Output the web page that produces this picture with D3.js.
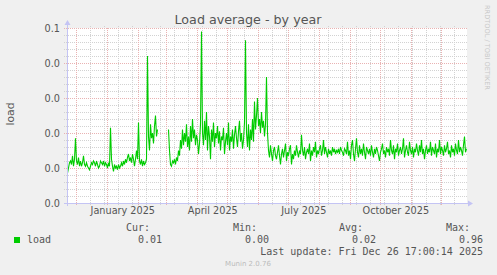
<!DOCTYPE html>
<html>
<head>
<meta charset="utf-8">
<script src="https://cdn.jsdelivr.net/npm/d3@7"></script>
<style>
  body { margin: 0; background: #f0f0f0; }
  svg { display: block; font-family: "DejaVu Sans", sans-serif; }
  .mono { font-family: "DejaVu Sans Mono", monospace; }
</style>
</head>
<body>
<div id="chart"></div>
<script>
// time window: munin "by year" = last 400 days, one point per day
const lastUpdate = new Date(Date.UTC(2025, 11, 26, 17, 0, 14));
const days = 400;

// daily load average, in thousandths (null = no data)
const load = [
  17,20,23,24,22,27,21,25,37,24, 22,26,21,24,21,23,27,22,21,23,
  21,20,19,21,23,22,24,23,21,24, 22,20,21,24,23,22,24,21,23,22,
  20,23,21,43,25,21,18,22,20,21, 19,22,20,21,23,21,24,22,25,23,
  26,28,24,26,23,28,25,21,25,30, 25,46,24,22,25,21,24,22,23,25,
  84,38,30,45,37,40,34,44,50,38, 42,null,null,null,null,null,null,null,null,null,
  null,42,30,22,21,24,23,25,22,26, 24,30,27,36,31,42,33,40,35,45,
  32,38,30,44,35,48,37,42,33,39, 36,28,34,45,98,40,33,47,36,52,
  30,44,38,25,42,35,46,32,40,37, 44,34,41,30,38,36,43,28,35,40,
  33,46,30,38,35,42,31,39,44,37, 32,41,47,35,40,31,36,46,93,40,
  32,45,30,42,36,48,35,58,42,50, 60,44,48,40,52,43,47,38,45,72,
  40,30,26,33,28,24,30,32,27,25, 29,33,27,22,28,31,26,30,34,24,
  29,27,31,33,22,28,25,30,27,33, 29,26,30,28,39,30,27,32,25,29,
  31,28,34,24,30,27,32,29,35,26, 30,28,31,33,27,30,36,28,32,29,
  26,31,28,30,27,32,29,31,28,30, 29,31,28,32,30,29,27,31,30,28,
  35,27,30,25,33,36,28,24,31,37, 29,26,33,28,31,27,34,29,25,32,
  30,28,31,27,33,29,26,31,28,32, 30,27,24,29,31,34,28,30,26,32,
  29,31,27,36,30,28,33,25,31,29, 34,27,30,32,28,31,37,26,30,33,
  29,27,35,30,28,32,26,31,29,34, 30,27,33,29,36,28,31,25,30,33,
  28,31,29,35,27,32,30,28,34,26, 31,29,36,28,32,30,27,33,29,31,
  35,28,30,26,33,29,31,27,34,30, 28,36,29,32,30,27,33,38,29,31
];

const yTicks = [0, 0.02, 0.04, 0.06, 0.08, 0.1];
const yTickLabels = ["0.0", "0.0", "0.0", "0.0", "0.0", "0.1"];
const labelMonths = ["2025-01-01", "2025-04-01", "2025-07-01", "2025-10-01"];

const legendName = "load";
const legendHeads = ["Cur:", "Min:", "Avg:", "Max:"];
const legendValues = ["0.01", "0.00", "0.02", "0.96"];
const updateText = "Last update: Fri Dec 26 17:00:14 2025";

const width = 497, height = 275;
const plotLeft = 67, plotRight = 467, plotTop = 28, plotBottom = 203;

const startTime = new Date(lastUpdate.getTime() - days * 86400e3);
const points = load.map((v, i) => ({
  t: new Date(startTime.getTime() + i * 86400e3),
  v: v == null ? null : v / 1000
}));

const svg = d3.select("#chart").append("svg")
    .attr("width", width)
    .attr("height", height);

const x = d3.scaleUtc()
    .domain([startTime, lastUpdate])
    .range([plotLeft, plotRight]);

const y = d3.scaleLinear()
    .domain([0, 0.1])
    .range([plotBottom, plotTop]);

const px = v => Math.round(v) + 0.5;

// canvas
svg.append("rect")
    .attr("x", plotLeft).attr("y", plotTop)
    .attr("width", plotRight - plotLeft).attr("height", plotBottom - plotTop)
    .attr("fill", "#ffffff");

const grid = svg.append("g").attr("shape-rendering", "crispEdges");

// minor grid
const minorY = d3.range(0, 0.1001, 0.004);
grid.selectAll("line.minor-y")
  .data(minorY)
  .enter().append("line")
    .attr("x1", plotLeft - 3).attr("x2", plotRight + 1)
    .attr("y1", d => px(y(d))).attr("y2", d => px(y(d)))
    .attr("stroke", "#d2d2d2")
    .attr("stroke-dasharray", "1,1");

const minorX = d3.utcSunday.range(new Date(Date.UTC(2024, 11, 15)), lastUpdate, 2);
grid.selectAll("line.minor-x")
  .data(minorX)
  .enter().append("line")
    .attr("x1", d => px(x(d))).attr("x2", d => px(x(d)))
    .attr("y1", plotTop - 2).attr("y2", plotBottom + 3)
    .attr("stroke", "#d2d2d2")
    .attr("stroke-dasharray", "1,1");

// major grid
grid.selectAll("line.major-y")
  .data(yTicks)
  .enter().append("line")
    .attr("x1", plotLeft - 3).attr("x2", plotRight + 1)
    .attr("y1", d => px(y(d))).attr("y2", d => px(y(d)))
    .attr("stroke", "#e9b2b2")
    .attr("stroke-dasharray", "1,1");

const majorX = d3.utcMonth.range(startTime, lastUpdate);
grid.selectAll("line.major-x")
  .data(majorX)
  .enter().append("line")
    .attr("x1", d => px(x(d))).attr("x2", d => px(x(d)))
    .attr("y1", plotTop).attr("y2", plotBottom + 3)
    .attr("stroke", "#e9b2b2")
    .attr("stroke-dasharray", "1,1");

// data line
const line = d3.line()
    .defined(d => d.v != null)
    .x(d => x(d.t) + 0.5)
    .y(d => y(d.v));

svg.append("path")
    .datum(points)
    .attr("d", line)
    .attr("fill", "none")
    .attr("stroke", "#00cc00")
    .attr("stroke-width", 1.1);

// axes lines with arrows
const axisColor = "#c4c4f4";
svg.append("line")
    .attr("x1", px(plotLeft)).attr("x2", px(plotLeft))
    .attr("y1", plotBottom + 3).attr("y2", plotTop - 5)
    .attr("stroke", axisColor).attr("shape-rendering", "crispEdges");
svg.append("path")
    .attr("d", `M${plotLeft - 2.5},${plotTop - 3}L${plotLeft + 3.5},${plotTop - 3}L${plotLeft + 0.5},${plotTop - 8}Z`)
    .attr("fill", axisColor);
svg.append("line")
    .attr("x1", plotLeft - 3).attr("x2", plotRight + 2)
    .attr("y1", px(plotBottom)).attr("y2", px(plotBottom))
    .attr("stroke", axisColor).attr("shape-rendering", "crispEdges");
svg.append("path")
    .attr("d", `M${plotRight + 1},${plotBottom - 2.5}L${plotRight + 1},${plotBottom + 3.5}L${plotRight + 6},${plotBottom + 0.5}Z`)
    .attr("fill", axisColor);

// y axis labels
const yAxis = d3.axisLeft(y)
    .tickValues(yTicks)
    .tickFormat((d, i) => yTickLabels[i])
    .tickSize(0)
    .tickPadding(7);
const gy = svg.append("g")
    .attr("transform", `translate(${plotLeft},0)`)
    .call(yAxis);
gy.select(".domain").remove();
gy.selectAll("text")
    .attr("fill", "#555")
    .style("font-size", "9.7px")
    .style("font-family", "DejaVu Sans");

// x axis labels, centred mid-month like rrdtool
const labelDates = labelMonths.map(s => d3.utcDay.offset(new Date(s + "T00:00:00Z"), 15));
const xAxis = d3.axisBottom(x)
    .tickValues(labelDates)
    .tickFormat(d => d3.utcFormat("%B %Y")(d3.utcMonth.floor(d)))
    .tickSize(0)
    .tickPadding(4);
const gx = svg.append("g")
    .attr("transform", `translate(0,${plotBottom})`)
    .call(xAxis);
gx.select(".domain").remove();
gx.selectAll("text")
    .attr("fill", "#555")
    .style("font-size", "9.7px")
    .style("font-family", "DejaVu Sans");

// title
svg.append("text")
    .attr("x", 248).attr("y", 24)
    .attr("text-anchor", "middle")
    .attr("fill", "#555")
    .style("font-size", "12.7px")
    .text("Load average - by year");

// vertical axis title
svg.append("text")
    .attr("transform", "translate(14,114) rotate(-90)")
    .attr("text-anchor", "middle")
    .attr("fill", "#555")
    .style("font-size", "10.8px")
    .text("load");

// rrdtool watermark
svg.append("text")
    .attr("transform", "translate(485,5) rotate(90)")
    .attr("fill", "#c8c8c8")
    .style("font-size", "6.6px")
    .text("RRDTOOL / TOBI OETIKER");

// legend
const colRight = [150, 257, 363, 470];
const valRight = [162, 269, 376, 483];
const legend = svg.append("g").attr("class", "mono").attr("fill", "#555").style("font-size", "10px");

legend.selectAll("text.head")
  .data(legendHeads)
  .enter().append("text")
    .attr("x", (d, i) => colRight[i]).attr("y", 231)
    .attr("text-anchor", "end")
    .text(d => d);

legend.selectAll("text.val")
  .data(legendValues)
  .enter().append("text")
    .attr("x", (d, i) => valRight[i]).attr("y", 243)
    .attr("text-anchor", "end")
    .text(d => d);

svg.append("rect")
    .attr("x", 14).attr("y", 237)
    .attr("width", 6).attr("height", 6)
    .attr("fill", "#00cc00");

legend.append("text")
    .attr("x", 27).attr("y", 243)
    .text(legendName);

legend.append("text")
    .attr("x", 483).attr("y", 255)
    .attr("text-anchor", "end")
    .text(updateText);

svg.append("text")
    .attr("x", 248).attr("y", 266)
    .attr("text-anchor", "middle")
    .attr("fill", "#bbb")
    .style("font-size", "7px")
    .text("Munin 2.0.76");
</script>
</body>
</html>
